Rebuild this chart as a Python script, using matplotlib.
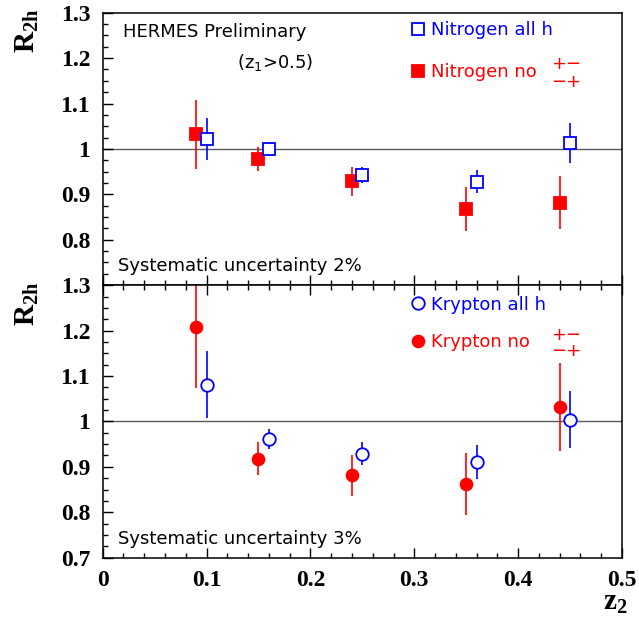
import numpy as np
import matplotlib.pyplot as plt
from matplotlib.lines import Line2D
from matplotlib.ticker import MultipleLocator

plt.rcParams['mathtext.fontset'] = 'custom'
plt.rcParams['mathtext.rm'] = 'DejaVu Sans'
plt.rcParams['mathtext.bf'] = 'Liberation Serif:bold'

# data
z_nitro_all = [0.10, 0.16, 0.25, 0.36, 0.45]
r_nitro_all = [1.022, 1.000, 0.943, 0.928, 1.014]
e_nitro_all = [0.046, 0.015, 0.017, 0.026, 0.044]

z_nitro_no = [0.09, 0.15, 0.24, 0.35, 0.44]
r_nitro_no = [1.032, 0.978, 0.929, 0.868, 0.882]
e_nitro_no = [0.076, 0.027, 0.032, 0.048, 0.059]

z_kr_all = [0.10, 0.16, 0.25, 0.36, 0.45]
r_kr_all = [1.081, 0.962, 0.929, 0.911, 1.004]
e_kr_all = [0.074, 0.022, 0.025, 0.037, 0.062]

z_kr_no = [0.09, 0.15, 0.24, 0.35, 0.44]
r_kr_no = [1.208, 0.918, 0.881, 0.863, 1.031]
e_kr_no = [0.134, 0.037, 0.046, 0.068, 0.097]

x_ticks = [0, 0.1, 0.2, 0.3, 0.4, 0.5]
x_labels = ['0', '0.1', '0.2', '0.3', '0.4', '0.5']
y_ticks_top = [0.8, 0.9, 1.0, 1.1, 1.2, 1.3]
y_labels_top = ['0.8', '0.9', '1', '1.1', '1.2', '1.3']
y_ticks_bot = [0.7, 0.8, 0.9, 1.0, 1.1, 1.2, 1.3]
y_labels_bot = ['0.7', '0.8', '0.9', '1', '1.1', '1.2', '1.3']

tickfont = {'family': 'Liberation Serif', 'weight': 'bold', 'size': 17}
txtsize = 13

fig, (ax1, ax2) = plt.subplots(2, 1, figsize=(6.39, 6.24), dpi=100, sharex=True)
fig.subplots_adjust(left=0.1607, right=0.9734, top=0.9796, bottom=0.1063, hspace=0)


def draw(ax, z, r, e, marker, color, filled, ms):
    ax.errorbar(z, r, yerr=e, fmt='none', ecolor=color, elinewidth=1.2, capsize=0, zorder=2)
    ax.plot(z, r, ls='none', marker=marker, ms=ms, mec=color, mew=1.3,
            mfc=color if filled else 'white', zorder=3)


for ax in (ax1, ax2):
    ax.set_xlim(0, 0.5)
    ax.set_ylim(0.7, 1.3)
    ax.axhline(1.0, color='0.35', lw=1.0, zorder=1)
    ax.xaxis.set_minor_locator(MultipleLocator(0.02))
    ax.yaxis.set_minor_locator(MultipleLocator(0.025))
    ax.tick_params(which='both', direction='in', left=True, right=False, width=1.0)
    ax.tick_params(which='major', length=7, pad=9)
    ax.tick_params(which='minor', length=3.5)
    for s in ax.spines.values():
        s.set_linewidth(1.1)
    ax.text(-0.145, 1.015, r'$\mathbf{R_{2h}}$', transform=ax.transAxes, rotation=90,
            ha='center', va='top', fontsize=21)

# top panel: nitrogen
draw(ax1, z_nitro_no, r_nitro_no, e_nitro_no, 's', 'red', True, 8.8)
draw(ax1, z_nitro_all, r_nitro_all, e_nitro_all, 's', 'blue', False, 9)
ax1.set_yticks(y_ticks_top)
ax1.set_yticklabels(y_labels_top, fontdict=tickfont)
ax1.tick_params(which='both', top=False, bottom=True, labelbottom=False)

ax1.text(0.039, 0.929, 'HERMES Preliminary', transform=ax1.transAxes, fontsize=txtsize, va='center')
ax1.text(0.259, 0.819, r'(z$_{\mathsf{1}}$>0.5)', transform=ax1.transAxes, fontsize=txtsize, va='center')
ax1.text(0.030, 0.053, 'Systematic uncertainty 2%', transform=ax1.transAxes, fontsize=txtsize, va='baseline')

h_all = Line2D([], [], ls='none', marker='s', ms=9, mec='blue', mfc='white', mew=1.3)
h_no = Line2D([], [], ls='none', marker='s', ms=8.8, mec='red', mfc='red', mew=1.3)
ax1.legend([h_all, h_no], ['Nitrogen all h', 'Nitrogen no'], loc='upper left',
           bbox_to_anchor=(0.595, 0.968), frameon=False, fontsize=txtsize,
           handlelength=0.7, handletextpad=0.35, labelspacing=1.33,
           borderpad=0, borderaxespad=0, labelcolor=['blue', 'red'])
ax1.text(0.864, 0.812, '+\u2212', transform=ax1.transAxes, fontsize=txtsize, color='red', va='center')
ax1.text(0.864, 0.745, '\u2212+', transform=ax1.transAxes, fontsize=txtsize, color='red', va='center')

# bottom panel: krypton
draw(ax2, z_kr_no, r_kr_no, e_kr_no, 'o', 'red', True, 8.5)
draw(ax2, z_kr_all, r_kr_all, e_kr_all, 'o', 'blue', False, 9)
ax2.set_yticks(y_ticks_bot)
ax2.set_yticklabels(y_labels_bot, fontdict=tickfont)
ax2.set_xticks(x_ticks)
ax2.set_xticklabels(x_labels, fontdict=tickfont)
ax2.tick_params(which='both', top=True, bottom=True)

ax2.text(0.030, 0.050, 'Systematic uncertainty 3%', transform=ax2.transAxes, fontsize=txtsize, va='baseline')

k_all = Line2D([], [], ls='none', marker='o', ms=9, mec='blue', mfc='white', mew=1.3)
k_no = Line2D([], [], ls='none', marker='o', ms=8.5, mec='red', mfc='red', mew=1.3)
ax2.legend([k_all, k_no], ['Krypton all h', 'Krypton no'], loc='upper left',
           bbox_to_anchor=(0.595, 0.962), frameon=False, fontsize=txtsize,
           handlelength=0.7, handletextpad=0.35, labelspacing=1.08,
           borderpad=0, borderaxespad=0, labelcolor=['blue', 'red'])
ax2.text(0.864, 0.818, '+\u2212', transform=ax2.transAxes, fontsize=txtsize, color='red', va='center')
ax2.text(0.864, 0.757, '\u2212+', transform=ax2.transAxes, fontsize=txtsize, color='red', va='center')

ax2.text(1.01, -0.163, r'$\mathbf{z_2}$', transform=ax2.transAxes, ha='right', va='center', fontsize=21)

plt.savefig('out.png', dpi=100)
